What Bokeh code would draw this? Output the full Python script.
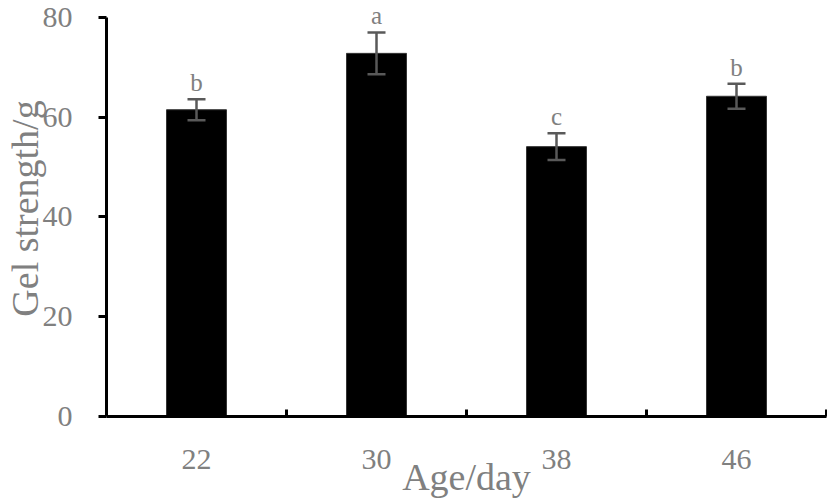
from bokeh.plotting import figure
from bokeh.models import Range1d, FixedTicker, Whisker, ColumnDataSource, TeeHead
from bokeh.core.properties import value
from bokeh.embed import file_html
from bokeh.resources import INLINE

ages = ["22", "30", "38", "46"]
means = [61.5, 72.8, 54.1, 64.2]
errors = [2.1, 4.2, 2.7, 2.5]
letters = ["b", "a", "c", "b"]
y_ticks = [0, 20, 40, 60, 80]

FONT = "Liberation Serif"
GREY = "#808080"

xs = [i + 0.5 for i in range(len(ages))]
src = ColumnDataSource(dict(
    x=xs, top=means,
    upper=[m + e for m, e in zip(means, errors)],
    lower=[m - e for m, e in zip(means, errors)],
    letter=letters,
))

p = figure(width=827, height=500, output_backend="svg", toolbar_location=None,
           x_range=Range1d(0, len(ages)), y_range=Range1d(0, 83.4),
           min_border_left=106, min_border_right=1, min_border_top=0, min_border_bottom=82)
p.outline_line_color = None
p.grid.visible = False
p.background_fill_color = "white"

p.vbar(x="x", top="top", width=0.333, source=src, fill_color="black", line_color="#333333", line_width=1)

w = Whisker(base="x", upper="upper", lower="lower", source=src, level="overlay",
            line_color="#595959", line_width=2.5,
            upper_head=TeeHead(size=18, line_color="#595959", line_width=2.5),
            lower_head=TeeHead(size=18, line_color="#595959", line_width=2.5))
p.add_layout(w)

p.text(x="x", y="upper", text="letter", source=src, text_align="center", text_baseline="bottom",
       y_offset=-3, text_font=value(FONT), text_font_size="25px", text_color=GREY)

# x axis
xa = p.xaxis[0]
xa.ticker = FixedTicker(ticks=xs, minor_ticks=[1, 2, 3, 4])
xa.major_label_overrides = {x: a for x, a in zip(xs, ages)}
xa.major_tick_in = 0
xa.major_tick_out = 0
xa.minor_tick_in = 7
xa.minor_tick_out = 0
xa.minor_tick_line_color = "black"
xa.minor_tick_line_width = 3
xa.axis_line_width = 3
xa.axis_line_color = "black"
xa.major_label_standoff = 33
xa.major_label_text_font = FONT
xa.major_label_text_font_size = "30px"
xa.major_label_text_color = GREY
xa.axis_label = "Age/day"
xa.axis_label_text_font = FONT
xa.axis_label_text_font_size = "38px"
xa.axis_label_text_font_style = "normal"
xa.axis_label_text_color = GREY
xa.axis_label_standoff = -16

# y axis
ya = p.yaxis[0]
ya.ticker = FixedTicker(ticks=y_ticks)
ya.bounds = (0, 80)
ya.minor_tick_line_color = None
ya.major_tick_in = 0
ya.major_tick_out = 8
ya.major_tick_line_width = 3
ya.axis_line_width = 3
ya.axis_line_color = "black"
ya.major_label_standoff = 26
ya.major_label_text_font = FONT
ya.major_label_text_font_size = "30px"
ya.major_label_text_color = GREY
ya.axis_label = "Gel strength/g"
ya.axis_label_text_font = FONT
ya.axis_label_text_font_size = "38px"
ya.axis_label_text_font_style = "normal"
ya.axis_label_text_color = GREY
ya.axis_label_standoff = -6

open("out.html", "w").write(file_html(p, INLINE))
